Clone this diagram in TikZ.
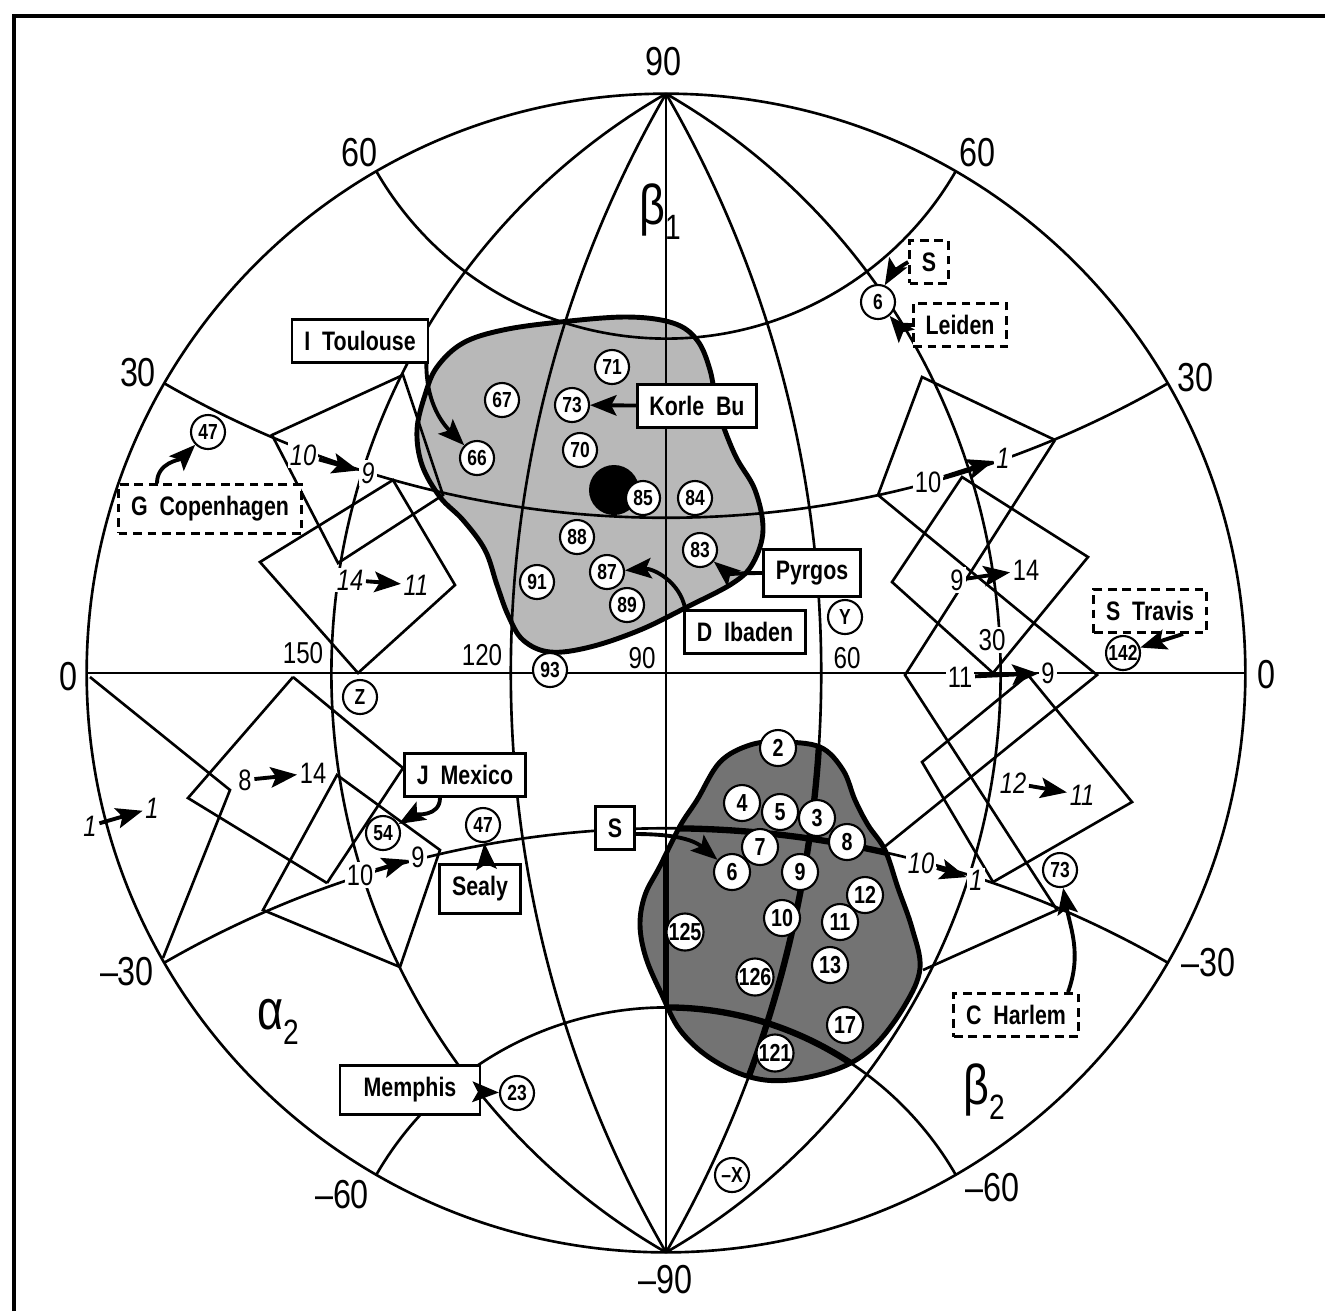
\documentclass[tikz,border=0pt]{standalone}
\usepackage{fontspec}
\setmainfont{Liberation Sans}[FakeStretch=0.8]
\usetikzlibrary{arrows.meta}

\newcommand{\axfont}{\fontsize{11.5}{12}\selectfont}
\newcommand{\tagfont}{\fontsize{7.6}{8}\bfseries\selectfont}
\newcommand{\numfont}{\fontsize{6.2}{7}\bfseries\selectfont}
\newcommand{\bnumfont}{\fontsize{7}{8}\bfseries\selectfont}
\newcommand{\mvfont}{\fontsize{8.4}{9}\selectfont}

\tikzset{
  net/.style={line width=0.75pt},
  edge/.style={line width=0.75pt},
  num/.style={circle,draw,fill=white,inner sep=0pt,minimum size=0.34cm,line width=0.6pt,font=\numfont},
  bnum/.style={num,minimum size=0.36cm,font=\bnumfont},
  tag/.style={draw,fill=white,line width=0.8pt,inner xsep=3.5pt,minimum height=0.42cm,font=\tagfont},
  dtag/.style={tag,dash pattern=on 2.5pt off 1.6pt},
  ax/.style={font=\axfont,inner sep=1pt},
  eq/.style={fill=white,inner sep=0.6pt,font=\fontsize{8.6}{9}\selectfont},
  mvl/.style={fill=white,inner sep=0.6pt,font=\mvfont},
  mvi/.style={mvl,font=\mvfont\itshape},
  mv/.style={-{Stealth[length=7.5pt,width=5.8pt,inset=1.5pt]},line width=1.1pt},
}

% the stereographic net (unit radius)
\newcommand{\netgrid}{%
  \draw (-1,0) -- (1,0);
  \draw (0,1) -- (0,-1);
  \draw (0,1) arc[start angle=30,end angle=-30,radius=11.58cm];
  \draw (0,1) arc[start angle=60,end angle=-60,radius=6.686cm];
  \draw (0,1) arc[start angle=150,end angle=210,radius=11.58cm];
  \draw (0,1) arc[start angle=120,end angle=240,radius=6.686cm];
  \draw (-0.866,0.5) arc[start angle=240,end angle=300,radius=10.029cm];
  \draw (-0.5,0.866) arc[start angle=210,end angle=330,radius=3.343cm];
  \draw (-0.866,-0.5) arc[start angle=120,end angle=60,radius=10.029cm];
  \draw (-0.5,-0.866) arc[start angle=150,end angle=30,radius=3.343cm];
}
\newcommand{\botblob}{plot[smooth cycle,tension=0.6] coordinates {(780,742) (820,747) (843,770) (855,800) (868,825) (885,850) (898,888) (912,928) (920,968) (905,1005) (875,1045) (840,1068) (790,1080) (750,1077) (710,1058) (680,1030) (662,995) (646,958) (640,925) (645,895) (660,866) (680,826) (697,800) (720,762) (750,745)}}

\begin{document}
\begin{tikzpicture}[x=0.01cm,y=-0.01cm]
  \useasboundingbox (0,0) rectangle (1325,1311);
  \draw[line width=0.9pt] (14,1311) -- (14,16) -- (1325,16);

  % shaded regions
  \filldraw[fill=black!28,line width=1.4pt] plot[smooth cycle,tension=0.6] coordinates {(437,367) (463,343) (503,330) (560,322) (627,317) (673,323) (697,340) (710,370) (718,410) (735,455) (755,490) (763,530) (753,563) (733,583) (687,607) (640,630) (590,647) (550,652) (523,640) (508,615) (497,585) (485,550) (463,520) (440,497) (422,465) (417,430) (425,395)};
  \filldraw[fill=black!55,line width=1.4pt] \botblob;

  \begin{scope}[shift={(666,673)},x=5.79cm,y=5.79cm,net]
    \draw (0,0) circle[radius=5.79cm];
    \netgrid
  \end{scope}
  \begin{scope}
    \clip \botblob;
    \begin{scope}[shift={(666,673)},x=5.79cm,y=5.79cm,line width=1.8pt]
      \netgrid
    \end{scope}
  \end{scope}

  % tilted squares
  \draw[edge] (272,435) -- (403,375) -- (443,495) -- (338,563) -- cycle;
  \draw[edge] (260,562) -- (393,480) -- (455,585) -- (358,673) -- cycle;
  \draw[edge] (878,495) -- (922,377) -- (1055,440);
  \draw[edge] (878,495) -- (1097,675) -- (883,848);
  \draw[edge] (1055,440) -- (905,675) -- (1057,910) -- (923,970);
  \draw[edge] (892,582) -- (962,477) -- (1088,557) -- (993,673) -- cycle;
  \draw[edge] (922,762) -- (1028,675) -- (1132,802) -- (993,882) -- cycle;
  \draw[edge] (90,677) -- (230,790) -- (163,958);
  \draw[edge] (293,677) -- (188,798) -- (327,883);
  \draw[edge] (293,677) -- (403,768) -- (327,883);
  \draw[edge] (263,910) -- (337,775) -- (440,850) -- (400,967) -- cycle;

  % big dot
  \fill (614,490) circle[radius=0.25cm];

  % axis labels
  \node[ax] (l90) at (663,62) {90};
  \node[ax] (lm90) at (665,1280) {--90};
  \node[ax] (l0w) at (68,677) {0};
  \node[ax] (l0e) at (1266,675) {0};
  \node[ax] (l60nw) at (359,153) {60};
  \node[ax] (l60ne) at (977,153) {60};
  \node[ax] (l30nw) at (138,373) {30};
  \node[ax] (l30ne) at (1195,378) {30};
  \node[ax] (l30sw) at (127,972) {--30};
  \node[ax] (l30se) at (1208,963) {--30};
  \node[ax] (l60sw) at (342,1195) {--60};
  \node[ax] (l60se) at (992,1188) {--60};
  \node[eq] (e150) at (303,653) {150};
  \node[eq] (e120) at (482,655) {120};
  \node[eq] (e90) at (642,658) {90};
  \node[eq] (e60) at (847,658) {60};
  \node[eq] (e30) at (992,640) {30};
  \node[font=\fontsize{16}{16}\selectfont] (beta1) at (660,212) {β\raisebox{-0.5ex}{\fontsize{10}{10}\selectfont 1}};
  \node[font=\fontsize{16}{16}\selectfont] (alpha2) at (278,1022) {α\raisebox{-0.5ex}{\fontsize{10}{10}\selectfont 2}};
  \node[font=\fontsize{16}{16}\selectfont] (beta2) at (984,1092) {β\raisebox{-0.5ex}{\fontsize{10}{10}\selectfont 2}};

  % residues
  \node[num] (n71) at (612,367) {71};
  \node[num] (n67) at (502,400) {67};
  \node[num] (n73) at (572,405) {73};
  \node[num] (n70) at (580,450) {70};
  \node[num] (n66) at (477,458) {66};
  \node[num] (n85) at (643,498) {85};
  \node[num] (n84) at (695,498) {84};
  \node[num] (n88) at (577,537) {88};
  \node[num] (n83) at (700,550) {83};
  \node[num] (n87) at (607,572) {87};
  \node[num] (n91) at (537,582) {91};
  \node[num] (n89) at (627,605) {89};
  \node[num] (n93) at (550,670) {93};
  \node[num] (ny) at (845,617) {Y};
  \node[num] (nz) at (360,697) {Z};
  \node[num] (n6a) at (878,302) {6};
  \node[num] (n47a) at (208,432) {47};
  \node[num] (n142) at (1123,653) {142};
  \node[num] (n73b) at (1060,870) {73};
  \node[num] (n54) at (383,833) {54};
  \node[num] (n47b) at (483,825) {47};
  \node[num] (n23) at (517,1093) {23};
  \node[num] (nx) at (732,1175) {--X};
  \node[bnum] (n2) at (778,748) {2};
  \node[bnum] (n4) at (742,803) {4};
  \node[bnum] (n5) at (780,812) {5};
  \node[bnum] (n3) at (817,818) {3};
  \node[bnum] (n8) at (847,842) {8};
  \node[bnum] (n7) at (760,847) {7};
  \node[bnum] (n6b) at (732,872) {6};
  \node[bnum] (n9) at (800,872) {9};
  \node[bnum] (n12) at (865,895) {12};
  \node[bnum] (n10) at (782,918) {10};
  \node[bnum] (n11) at (840,922) {11};
  \node[bnum] (n125) at (685,932) {125};
  \node[bnum] (n13) at (830,965) {13};
  \node[bnum] (n126) at (755,977) {126};
  \node[bnum] (n17) at (845,1025) {17};
  \node[bnum] (n121) at (775,1053) {121};

  % variants
  \node[tag] (toulouse) at (360,341) {I\ \ Toulouse};
  \node[tag] (korle) at (697,406) {Korle\ \ Bu};
  \node[tag] (pyrgos) at (812,573) {Pyrgos};
  \node[tag] (ibaden) at (745,632) {D\ \ Ibaden};
  \node[tag] (mexico) at (465,775) {J\ \ Mexico};
  \node[tag] (sealy) at (480,889) {Sealy};
  \node[tag] (sbox) at (615,828) {S};
  \node[tag,minimum width=1.4cm] (memphis) at (410,1090) {Memphis};
  \node[dtag] (copen) at (210,509) {G\ \ Copenhagen};
  \node[dtag] (stop) at (929,262) {S};
  \node[dtag] (leiden) at (960,325) {Leiden};
  \node[dtag] (travis) at (1150,611) {S\ \ Travis};
  \node[dtag] (harlem) at (1016,1015) {C\ \ Harlem};

  \draw[mv] ([xshift=-0.03cm]toulouse.south east) to[out=-90,in=135] (n66);
  \draw[mv] (korle) -- (n73);
  \draw[mv] ([xshift=-0.53cm]copen.north) to[out=90,in=-135] (n47a);
  \draw[mv] (pyrgos.west) to[out=180,in=-40] (n83);
  \draw[mv] ([xshift=0.02cm]ibaden.north west) to[out=100,in=5] (n87);
  \draw[mv] (stop.west) to[bend right=15] (n6a);
  \draw[mv] (leiden.west) to[out=180,in=-50] (n6a);
  \draw[mv] ([xshift=0.33cm]travis.south) -- (n142);
  \draw[mv] ([xshift=0.52cm]harlem.north) to[out=70,in=-80] (n73b);
  \draw[mv] ([xshift=-0.25cm]mexico.south) to[out=-90,in=30] (n54);
  \draw[mv] ([xshift=0.06cm]sealy.north) -- (n47b);
  \draw[mv] ([yshift=-0.06cm]sbox.east) to[out=0,in=140] (n6b);
  \draw[mv] (memphis) -- (n23);

  % shifts
  \node[mvi] (a10) at (303,455) {10};
  \node[mvi] (a9) at (368,473) {9};
  \draw[mv] (a10) -- (a9);
  \node[mvi] (b14) at (350,580) {14};
  \node[mvi] (b11) at (416,585) {11};
  \draw[mv] (b14) -- (b11);
  \node[mvl] (c8) at (245,780) {8};
  \node[mvl] (c14) at (313,773) {14};
  \draw[mv] (c8) -- (c14);
  \node[mvi] (d1) at (90,826) {1};
  \node[mvi] (d1b) at (152,808) {1};
  \draw[mv] (d1) -- (d1b);
  \node[mvl] (e10) at (360,875) {10};
  \node[mvl] (e9) at (418,857) {9};
  \draw[mv] (e10) -- (e9);
  \node[mvl] (f10) at (928,482) {10};
  \node[mvi] (f1) at (1003,458) {1};
  \draw[mv] (f10) -- (f1);
  \node[mvl] (g9) at (957,580) {9};
  \node[mvl] (g14) at (1026,570) {14};
  \draw[mv] (g9) -- (g14);
  \node[mvl] (h11) at (960,677) {11};
  \node[mvl] (h9) at (1048,673) {9};
  \draw[mv] (h11) -- (h9);
  \node[mvi] (k12) at (1013,783) {12};
  \node[mvi] (k11) at (1082,795) {11};
  \draw[mv] (k12) -- (k11);
  \node[mvi] (m10) at (921,863) {10};
  \node[mvi] (m1) at (976,880) {1};
  \draw[mv] (m10) -- (m1);
\end{tikzpicture}
\end{document}
